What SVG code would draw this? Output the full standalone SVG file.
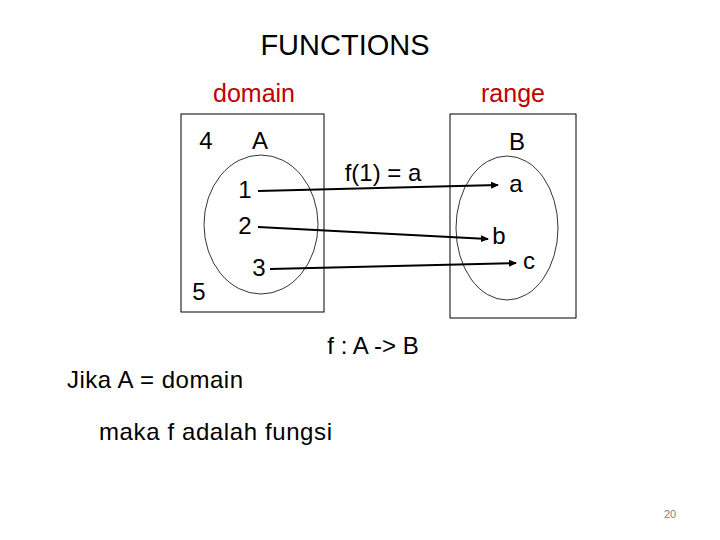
<svg xmlns="http://www.w3.org/2000/svg" width="720" height="540" viewBox="0 0 720 540">
<style>
text{font-family:"Liberation Sans",Arial,sans-serif;fill:#000}
.lbl{font-size:24px}
.red{fill:#c00000;font-size:25px}
.box{fill:none;stroke:#000;stroke-width:1}
.set{fill:none;stroke:#000;stroke-width:0.8}
.conn{stroke:#000;stroke-width:2;fill:none}
</style>
<defs>
<marker id="arr" markerWidth="8" markerHeight="8" refX="7" refY="4" orient="auto" markerUnits="userSpaceOnUse">
<path d="M0,0.5 L8,4 L0,7.5 Z" fill="#000"/>
</marker>
</defs>
<rect width="720" height="540" fill="#fff"/>
<text x="345" y="55" font-size="29" text-anchor="middle">FUNCTIONS</text>
<text class="red" x="254" y="102" text-anchor="middle">domain</text>
<text class="red" x="513" y="102" text-anchor="middle">range</text>
<g id="setA">
<rect class="box" x="181" y="114" width="143" height="198"/>
<ellipse class="set" cx="261" cy="224.5" rx="57" ry="69.5"/>
<text class="lbl" x="206" y="149" text-anchor="middle">4</text>
<text class="lbl" x="260" y="149" text-anchor="middle">A</text>
<text class="lbl" x="245" y="198" text-anchor="middle">1</text>
<text class="lbl" x="245" y="234" text-anchor="middle">2</text>
<text class="lbl" x="259" y="276" text-anchor="middle">3</text>
<text class="lbl" x="199" y="300" text-anchor="middle">5</text>
</g>
<g id="setB">
<rect class="box" x="450" y="114" width="126" height="204"/>
<ellipse class="set" cx="507" cy="228" rx="51" ry="72"/>
<text class="lbl" x="517" y="150" text-anchor="middle">B</text>
<text class="lbl" x="516" y="192" text-anchor="middle">a</text>
<text class="lbl" x="499" y="244" text-anchor="middle">b</text>
<text class="lbl" x="529" y="269" text-anchor="middle">c</text>
</g>
<g id="connectors">
<line class="conn" x1="258" y1="191" x2="498" y2="185" marker-end="url(#arr)"/>
<line class="conn" x1="258" y1="227" x2="488" y2="239" marker-end="url(#arr)"/>
<line class="conn" x1="270" y1="269" x2="516" y2="263" marker-end="url(#arr)"/>
</g>
<text class="lbl" x="383" y="181" text-anchor="middle">f(1) = a</text>
<text class="lbl" x="373" y="354" text-anchor="middle">f : A -&gt; B</text>
<text class="lbl" x="67" y="388" textLength="176">Jika A = domain</text>
<text class="lbl" x="99" y="440" textLength="233">maka f adalah fungsi</text>
<text x="670" y="518" font-size="11" text-anchor="middle" style="fill:#808080">20</text>
</svg>
